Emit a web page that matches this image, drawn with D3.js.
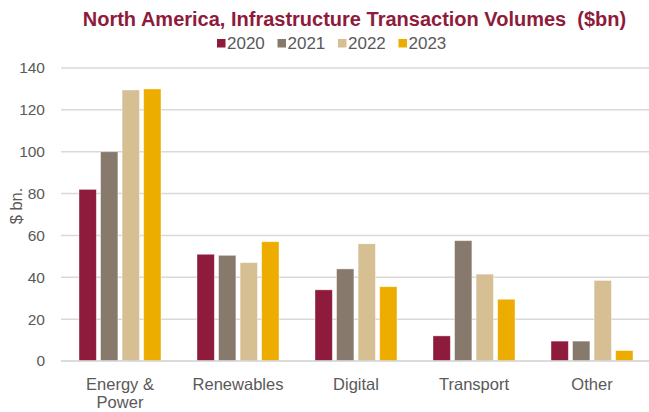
<!DOCTYPE html>
<html>
<head>
<meta charset="utf-8">
<script src="https://cdn.jsdelivr.net/npm/d3@7"></script>
<style>
  body { margin: 0; background: #fff; }
  text { font-family: "Liberation Sans", Arial, sans-serif; }
</style>
</head>
<body>
<div id="chart"></div>
<script>
// data
const categories = ['Energy & Power', 'Renewables', 'Digital', 'Transport', 'Other'];
const years = ['2020', '2021', '2022', '2023'];
const v2020 = [82, 51, 34, 12, 9.5];
const v2021 = [100, 50.5, 44, 57.5, 9.5];
const v2022 = [129.5, 47, 56, 41.5, 38.5];
const v2023 = [130, 57, 35.5, 29.5, 5];
const yTicks = [0, 20, 40, 60, 80, 100, 120, 140];
const colours = ['#8e1b3b', '#877a6d', '#d5bf93', '#edad00'];

const series = [v2020, v2021, v2022, v2023];

function createChart() {
    const width = 649;
    const height = 412;
    const left = 61, right = 651, top = 68, bottom = 361;

    const svg = d3.select('#chart').append('svg')
        .attr('width', width)
        .attr('height', height);

    const xScale = d3.scaleBand()
        .domain(categories)
        .range([left, right]);

    const xInner = d3.scaleBand()
        .domain(years)
        .range([0, 82])
        .paddingInner(0.195);

    const yScale = d3.scaleLinear()
        .domain([0, 140])
        .range([bottom, top]);

    // gridlines
    svg.append('g')
        .selectAll('line')
        .data(yTicks)
        .enter()
            .append('line')
                .attr('x1', left)
                .attr('x2', width)
                .attr('y1', d => yScale(d))
                .attr('y2', d => yScale(d))
                .attr('stroke', '#d9d9d9')
                .attr('stroke-width', 1.5);

    // y axis labels
    const yAxis = svg.append('g')
        .attr('transform', `translate(${left}, 0)`)
        .call(d3.axisLeft(yScale).tickValues(yTicks).tickSize(0).tickPadding(16));
    yAxis.select('.domain').remove();
    yAxis.selectAll('text')
        .attr('fill', '#595959')
        .style('font-size', '15.5px')
        .style('font-family', '"Liberation Sans", Arial, sans-serif');

    // y axis title
    svg.append('text')
        .attr('transform', 'translate(22, 206) rotate(-90)')
        .attr('text-anchor', 'middle')
        .attr('fill', '#595959')
        .style('font-size', '16.5px')
        .text('$ bn.');

    // bars
    const groups = svg.append('g')
        .selectAll('g')
        .data(categories)
        .enter()
            .append('g')
                .attr('transform', d => `translate(${xScale(d) + (xScale.bandwidth() - 82) / 2}, 0)`);

    groups.selectAll('rect')
        .data((d, i) => years.map((y, j) => ({ year: y, value: series[j][i], colour: colours[j] })))
        .enter()
            .append('rect')
                .attr('x', d => xInner(d.year))
                .attr('y', d => yScale(d.value))
                .attr('width', xInner.bandwidth())
                .attr('height', d => yScale(0) - yScale(d.value))
                .attr('fill', d => d.colour)
                .attr('stroke', 'rgba(255,255,255,0.5)')
                .attr('stroke-width', 0.8);

    // x axis line over the bars
    svg.append('line')
        .attr('x1', left)
        .attr('x2', width)
        .attr('y1', bottom)
        .attr('y2', bottom)
        .attr('stroke', '#d9d9d9')
        .attr('stroke-width', 1.5);

    // category labels (Energy & Power wraps onto two lines)
    const labelLines = { 'Energy & Power': ['Energy &', 'Power'] };
    svg.append('g')
        .selectAll('text')
        .data(categories)
        .enter()
            .append('text')
                .attr('x', d => xScale(d) + xScale.bandwidth() / 2)
                .attr('y', 390)
                .attr('text-anchor', 'middle')
                .attr('fill', '#595959')
                .style('font-size', '16.5px')
                .each(function (d) {
                    const lines = labelLines[d] || [d];
                    const t = d3.select(this);
                    lines.forEach((line, i) => {
                        t.append('tspan')
                            .attr('x', xScale(d) + xScale.bandwidth() / 2)
                            .attr('dy', i === 0 ? 0 : 17.5)
                            .text(line);
                    });
                });

    // title
    svg.append('text')
        .attr('x', 354.5)
        .attr('y', 26)
        .attr('text-anchor', 'middle')
        .attr('fill', '#8e1b3b')
        .style('font-size', '20px')
        .style('font-weight', 'bold')
        .style('white-space', 'pre')
        .text('North America, Infrastructure Transaction Volumes  ($bn)');

    // legend
    const legend = svg.append('g')
        .attr('transform', 'translate(217, 0)');
    const item = legend.selectAll('g')
        .data(years)
        .enter()
            .append('g')
                .attr('transform', (d, i) => `translate(${i * 60.5}, 0)`);
    item.append('rect')
        .attr('x', 0)
        .attr('y', 39)
        .attr('width', 8.5)
        .attr('height', 8.5)
        .attr('fill', (d, i) => colours[i]);
    item.append('text')
        .attr('x', 10)
        .attr('y', 48.5)
        .attr('fill', '#595959')
        .style('font-size', '17px')
        .text(d => d);
}

createChart();
</script>
</body>
</html>
